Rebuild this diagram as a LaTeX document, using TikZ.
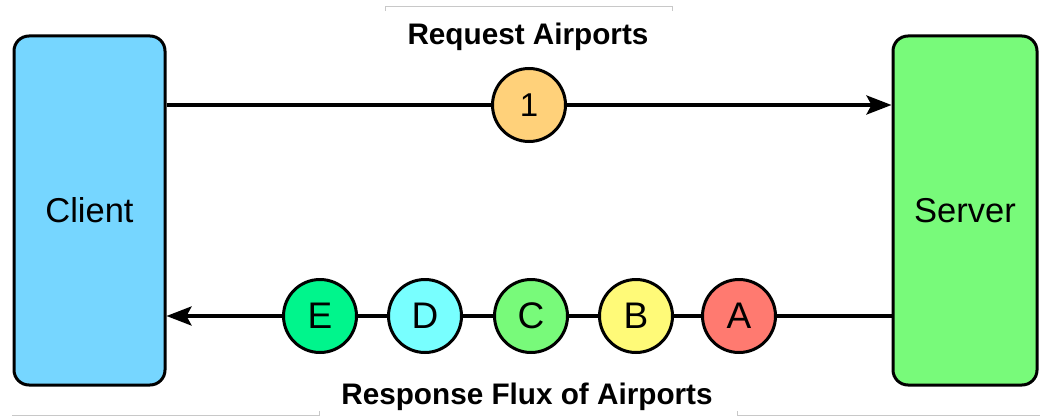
\documentclass[tikz,border=0pt]{standalone}
\usepackage{fontspec}
\setmainfont{Liberation Sans}
\usetikzlibrary{arrows.meta}
\definecolor{clientblue}{RGB}{118,214,255}
\definecolor{servergreen}{RGB}{120,250,122}
\definecolor{oneorange}{RGB}{255,209,122}
\definecolor{ecol}{RGB}{0,245,140}
\definecolor{dcol}{RGB}{120,255,255}
\definecolor{ccol}{RGB}{120,250,122}
\definecolor{bcol}{RGB}{255,250,120}
\definecolor{acol}{RGB}{255,122,112}
\definecolor{faint}{RGB}{200,200,200}
\tikzset{
  endbox/.style={draw=black, line width=3pt, rounded corners=15pt, inner sep=0pt,
    font=\fontsize{34.5}{36}\selectfont},
  item/.style={circle, draw=black, line width=3pt, minimum size=73pt, inner sep=0pt,
    font=\fontsize{37}{38}\selectfont},
  flow/.style={line width=3.5pt, draw=black},
  arr/.style={flow, -{Stealth[length=25pt,width=19pt,inset=5pt]}},
  caption/.style={font=\bfseries\fontsize{29.7}{31}\selectfont, inner sep=0pt},
  frame/.style={draw=faint, line width=1pt}
}
\begin{document}
\begin{tikzpicture}[x=1pt,y=-1pt]
\useasboundingbox (0,0) rectangle (1040,417);
% faint frame fragments
\coordinate (ta) at (385,11);
\coordinate (tb) at (385,7);
\coordinate (tc) at (672,7);
\coordinate (td) at (672,11);
\draw[frame] (ta) -- (tb) -- (tc) -- (td);
\coordinate (ba) at (12,415);
\coordinate (bb) at (319,415);
\coordinate (bc) at (319,411);
\coordinate (bd) at (737,411);
\coordinate (be) at (737,415);
\coordinate (bf) at (1040,415);
\draw[frame] (ba) -- (bb) -- (bc);
\draw[frame] (bd) -- (be) -- (bf);
% end boxes
\node[endbox, fill=clientblue, minimum width=151pt, minimum height=349pt] (client) at (89.5,210.5) {Client};
\node[endbox, fill=servergreen, minimum width=144pt, minimum height=349pt] (server) at (965,210.5) {Server};
% request
\node[item, fill=oneorange, font=\fontsize{33}{34}\selectfont] (one) at (529,105) {1};
\draw[flow] (client.east |- one.center) -- (one);
\draw[arr] (one) -- (server.west |- one.center);
\node[caption] (req) at (528,37) {Request Airports};
% response
\node[item, fill=acol] (A) at (739,316) {A};
\node[item, fill=bcol] (B) at (636,316) {B};
\node[item, fill=ccol] (C) at (531,316) {C};
\node[item, fill=dcol] (D) at (425,316) {D};
\node[item, fill=ecol] (E) at (320,316) {E};
\draw[flow] (server.west |- A.center) -- (A);
\draw[flow] (A) -- (B);
\draw[flow] (B) -- (C);
\draw[flow] (C) -- (D);
\draw[flow] (D) -- (E);
\draw[arr] (E) -- (client.east |- E.center);
\node[caption] (resp) at (527,397) {Response Flux of Airports};
\end{tikzpicture}
\end{document}
